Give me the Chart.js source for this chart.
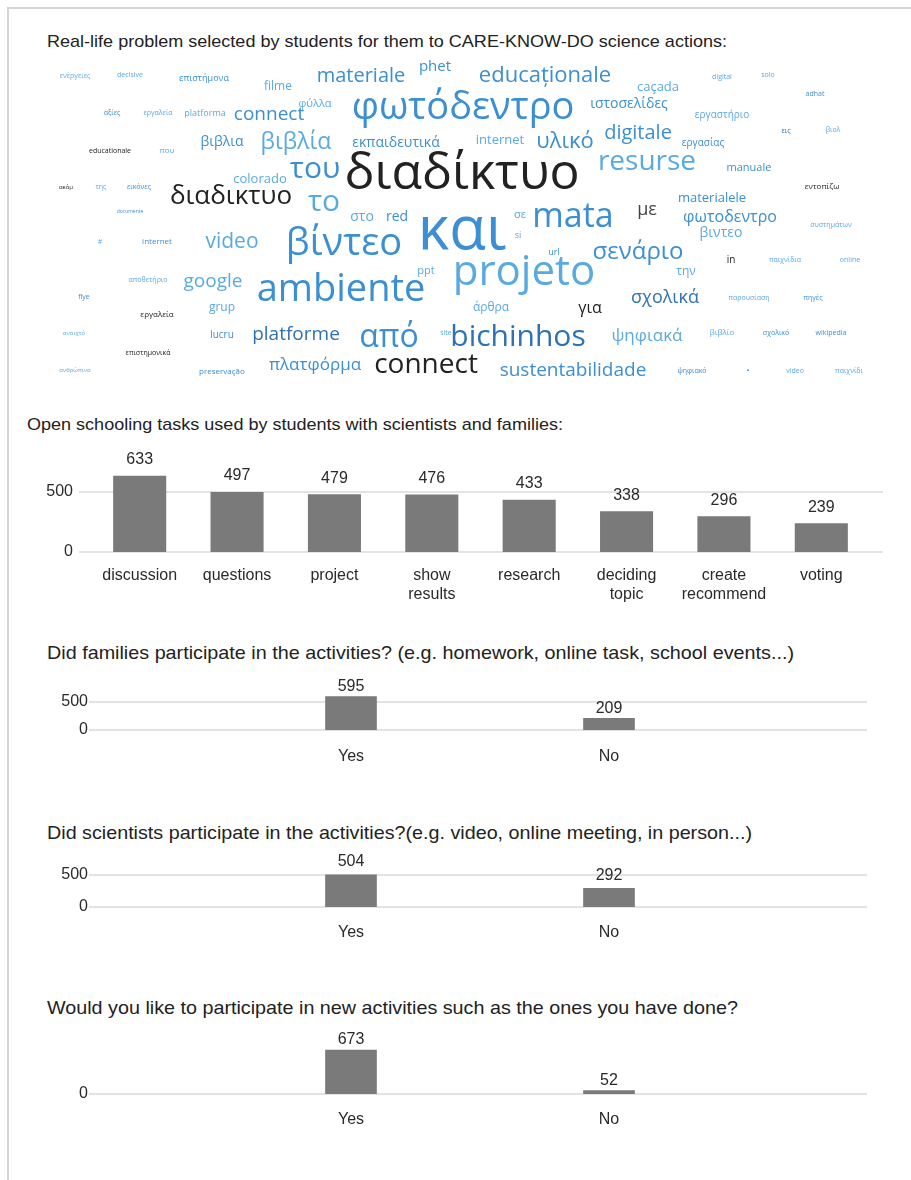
<!DOCTYPE html>
<html>
<head>
<meta charset="utf-8">
<script src="https://cdn.jsdelivr.net/npm/chart.js@4.4.1/dist/chart.umd.min.js"></script>
<style>
  html,body{margin:0;padding:0;background:#fff;}
  #page{position:relative;width:911px;height:1180px;overflow:hidden;background:#fff;font-family:"Liberation Sans",Arial,sans-serif;}
  #frame{position:absolute;left:7px;top:7px;right:-2px;bottom:-2px;border-left:2px solid #d4d4d4;border-top:2px solid #d4d4d4;}
  .title{position:absolute;color:#222;white-space:nowrap;line-height:1;transform-origin:0 50%;}
  canvas{position:absolute;left:0;}
</style>
</head>
<body>
<div id="page">
  <div id="frame"></div>
  <div class="title" id="t0" data-w="680" style="left:47px;top:33px;font-size:17px;">Real-life problem selected by students for them to CARE-KNOW-DO science actions:</div>
  <canvas id="cloud" width="911" height="345" style="top:50px"></canvas>
  <div class="title" id="t1" data-w="536" style="left:27px;top:416px;font-size:17px;">Open schooling tasks used by students with scientists and families:</div>
  <canvas id="c1" width="911" height="180" style="top:440px"></canvas>
  <div class="title" id="t2" data-w="747" style="left:47px;top:643px;font-size:19px;">Did families participate in the activities? (e.g. homework, online task, school events...)</div>
  <canvas id="c2" width="911" height="120" style="top:660px"></canvas>
  <div class="title" id="t3" data-w="705" style="left:47px;top:823px;font-size:19px;">Did scientists participate in the activities?(e.g. video, online meeting, in person...)</div>
  <canvas id="c3" width="911" height="120" style="top:835px"></canvas>
  <div class="title" id="t4" data-w="691" style="left:47px;top:998px;font-size:19px;">Would you like to participate in new activities such as the ones you have done?</div>
  <canvas id="c4" width="911" height="130" style="top:1015px"></canvas>
</div>
<script>
// ---------- Word cloud data ----------
const cloudWords = ["ενέργειες","decisive","επιστήμονα","filme","materiale","phet","educaționale","caçada","digital","solo","adhat",
"αξίες","εργαλεία","platforma","connect","φύλλα","φωτόδεντρο","ιστοσελίδες","εργαστήριο",
"βιβλια","βιβλία","εκπαιδευτικά","internet","υλικό","digitale","εργασίας","εις","βιολ",
"educationale","που","διαδίκτυο","του","resurse","manuale","colorado","εντοπίζω",
"ακόμ","της","εικόνες","διαδικτυο","το","materialele","με",
"documente","στο","red","και","σε","si","mata","φωτοδεντρο","συστημάτων","βιντεο",
"#","internet","video","βίντεο","url","σενάριο","in","παιχνίδια","online",
"projeto","ppt","την","αποθετήριο","google","ambiente","flye","σχολικά","παρουσίαση","πηγές",
"άρθρα","για","grup","εργαλεία","ανοιχτό","lucru","platforme","από","site","bichinhos","ψηφιακά","βιβλίο","σχολικό","wikipedia",
"επιστημονικά","ανθρώπινα","preservação","πλατφόρμα","connect","sustentabilidade","ψηφιακό","•","video","παιχνίδι"];
const cloudWeight = [7,7,9,12,20,15,22,13,7,7,7,
7,7,9,19,11,38,14,10,
14,23,14,13,22,20,10,7,7,
7,8,50,30,28,11,13,8,
6,7,7,26,30,13,18,
5,14,14,60,11,9,34,16,7,14,
7,8,21,38,9,24,10,7,7,
42,11,12,7,19,38,7,18,7,7,
12,16,12,8,6,10,19,32,7,30,17,8,7,7,
7,6,8,17,28,19,7,8,7,7];
const cloudX = [75,130,204,278,361,435,545,658,722,768,815,
112,158,205,269,315,463,629,722,
222,296,396,500,565,638,703,786,833,
110,167,462,315,647,749,260,822,
66,101,139,231,324,712,647,
130,362,397,462,520,518,573,730,831,721,
100,157,232,344,554,638,731,785,850,
524,426,686,148,213,341,84,665,749,813,
491,590,222,157,74,222,296,389,446,518,647,722,776,831,
148,75,222,315,426,573,692,748,795,849];
const cloudY = [76,75,78,87,76,67,76,87,77,75,94,
113,113,113,115,104,108,104,115,
142,142,143,140,142,133,143,131,130,
151,151,175,169,162,168,179,187,
187,187,187,197,202,198,210,
212,217,217,232,215,235,217,217,225,233,
242,242,242,244,252,252,260,260,260,
273,271,272,280,282,290,297,298,298,298,
308,308,308,315,333,335,335,338,333,337,336,333,333,333,
353,370,372,365,365,371,371,371,371,371];
// word group: 0 blue, 1 light blue, 2 dark blue, 3 black, 4 dark grey
const cloudGroup = [1,1,0,1,0,0,0,1,1,1,0,
0,1,1,0,1,0,0,1,
0,1,0,1,0,0,0,2,1,
3,1,3,0,1,0,1,3,
3,1,0,3,1,0,4,
0,1,0,0,1,1,0,0,1,1,
1,0,1,0,0,0,3,1,1,
1,1,1,1,1,0,0,2,1,0,
1,3,1,3,1,0,2,0,1,2,1,1,0,0,
3,1,0,0,3,0,0,0,1,1];

// ---------- Bar chart data ----------
const taskCategories = [["discussion"],["questions"],["project"],["show","results"],["research"],["deciding","topic"],["create","recommend"],["voting"]];
const taskValues = [633,497,479,476,433,338,296,239];

const yesNo = ["Yes","No"];
const familiesValues = [595,209];
const scientistsValues = [504,292];
const newActivitiesValues = [673,52];

const tickLabelsMain = [0,500];
const tickLabelsZeroOnly = [0];

// ---------- Styles ----------
const groupColors = ["#3b8fd2","#5aaae2","#2f72b3","#222222","#454545"];
const barColor = "#7a7a7a";
const gridColor = "#e3e3e3";
const textColor = "#2a2a2a";
const FONT = '"Liberation Sans", Arial, sans-serif';

// fit titles to the reference widths
document.querySelectorAll('.title').forEach(el => {
  const w = el.getBoundingClientRect().width;
  const target = +el.dataset.w;
  if (w > 0 && target) el.style.transform = 'scaleX(' + (target / w).toFixed(4) + ')';
});

// word cloud plugin
const wordPlugin = {
  id: 'words',
  afterDatasetsDraw(chart) {
    const ctx = chart.ctx;
    const meta = chart.getDatasetMeta(0);
    ctx.save();
    ctx.textAlign = 'center';
    ctx.textBaseline = 'middle';
    meta.data.forEach((pt, i) => {
      ctx.font = cloudWeight[i] + 'px "Open Sans", "Noto Sans", sans-serif';
      ctx.fillStyle = groupColors[cloudGroup[i]];
      ctx.fillText(cloudWords[i], pt.x, pt.y);
    });
    ctx.restore();
  }
};

new Chart(document.getElementById('cloud'), {
  type: 'scatter',
  data: { datasets: [{ data: cloudX.map((x, i) => ({ x: x, y: cloudY[i] })), pointRadius: 0, pointHoverRadius: 0 }] },
  options: {
    responsive: false, animation: false, events: [],
    layout: { padding: 0 },
    plugins: { legend: { display: false }, tooltip: { enabled: false } },
    scales: {
      x: { type: 'linear', min: 0, max: 911, display: false },
      y: { type: 'linear', min: 50, max: 395, reverse: true, display: false }
    }
  },
  plugins: [wordPlugin]
});

// grid + value label plugin
const barDecor = {
  id: 'barDecor',
  beforeDatasetsDraw(chart, args, opts) {
    const ctx = chart.ctx, ys = chart.scales.y, area = chart.chartArea;
    ctx.save();
    ctx.strokeStyle = gridColor;
    ctx.lineWidth = 2;
    ys.ticks.forEach(t => {
      const py = Math.round(ys.getPixelForValue(t.value));
      ctx.beginPath();
      ctx.moveTo(area.left - (opts.extL || 0), py);
      ctx.lineTo(area.right + (opts.extR || 0), py);
      ctx.stroke();
    });
    ctx.restore();
  },
  afterDatasetsDraw(chart, args, opts) {
    const ctx = chart.ctx;
    const meta = chart.getDatasetMeta(0);
    const data = chart.data.datasets[0].data;
    ctx.save();
    ctx.font = (opts.size || 15) + 'px ' + FONT;
    ctx.fillStyle = textColor;
    ctx.textAlign = 'center';
    ctx.textBaseline = 'bottom';
    meta.data.forEach((el, i) => {
      if (data[i] == null) return;
      ctx.fillText(String(data[i]), el.x, el.y - opts.gap);
    });
    ctx.restore();
  }
};

function barChart(id, labels, values, cfg) {
  return new Chart(document.getElementById(id), {
    type: 'bar',
    data: { labels: labels, datasets: [{ data: values, backgroundColor: barColor, borderWidth: 0,
      barPercentage: cfg.barPercentage || 0.9, categoryPercentage: cfg.categoryPercentage || 0.8,
      barThickness: cfg.barThickness }] },
    options: {
      responsive: false, animation: false, events: [],
      layout: { padding: { top: cfg.padTop, right: cfg.padRight, left: 0, bottom: 0 } },
      plugins: { legend: { display: false }, tooltip: { enabled: false },
        barDecor: { extL: cfg.extL, extR: cfg.extR, gap: cfg.gap, size: 16 } },
      scales: {
        x: {
          offset: cfg.offset,
          grid: { display: false, drawTicks: false },
          border: { display: false },
          ticks: { color: textColor, font: { family: FONT, size: 16, lineHeight: 1.2 }, padding: cfg.xPad, autoSkip: false, maxRotation: 0 },
          afterFit: s => { s.height = cfg.xHeight; }
        },
        y: {
          min: 0, max: cfg.yMax,
          grid: { display: false, drawTicks: false },
          border: { display: false },
          ticks: { color: textColor, font: { family: FONT, size: 16 }, padding: cfg.yPad },
          afterBuildTicks: s => { s.ticks = cfg.ticks.map(v => ({ value: v })); },
          afterFit: s => { s.width = cfg.yWidth; }
        }
      }
    },
    plugins: [barDecor]
  });
}

barChart('c1', taskCategories, taskValues, {
  barPercentage: 0.545, categoryPercentage: 1, offset: true, ticks: tickLabelsMain,
  padTop: 23.8, padRight: 41, yWidth: 91, yMax: 700, xHeight: 68, xPad: 14, yPad: 18,
  extL: 12, extR: 13, gap: 8
});

const padLabels = ['', ...yesNo, ''];
barChart('c2', padLabels, [null, ...familiesValues, null], {
  barThickness: 51, offset: false, ticks: tickLabelsMain,
  padTop: 30.8, padRight: 44, yWidth: 93, yMax: 700, xHeight: 50, xPad: 17, yPad: 5,
  extL: 4, extR: 0, gap: 2
});
barChart('c3', padLabels, [null, ...scientistsValues, null], {
  barThickness: 51, offset: false, ticks: tickLabelsMain,
  padTop: 27.2, padRight: 44, yWidth: 93, yMax: 700, xHeight: 48, xPad: 16, yPad: 5,
  extL: 4, extR: 0, gap: 5
});
barChart('c4', padLabels, [null, ...newActivitiesValues, null], {
  barThickness: 51, offset: false, ticks: tickLabelsZeroOnly,
  padTop: 26.7, padRight: 44, yWidth: 93, yMax: 800, xHeight: 51, xPad: 16, yPad: 5,
  extL: 4, extR: 0, gap: 2
});
</script>
</body>
</html>
